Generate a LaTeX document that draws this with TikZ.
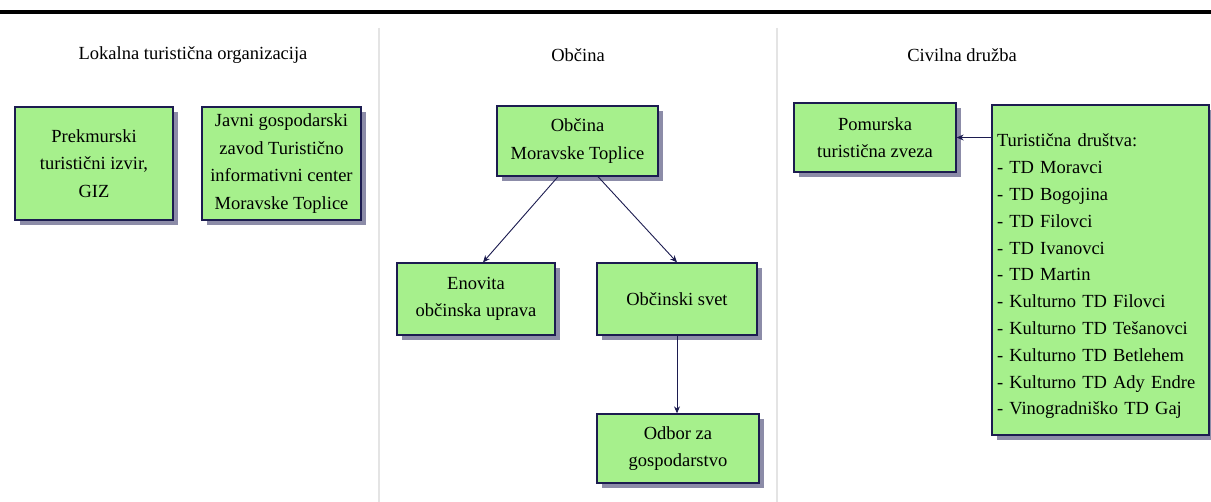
\documentclass[tikz,border=0pt]{standalone}
\usepackage{fontspec}
\setmainfont{Liberation Serif}
\usetikzlibrary{shadows,calc,arrows.meta}
\definecolor{boxfill}{RGB}{166,240,140}
\definecolor{boxline}{RGB}{28,28,80}
\definecolor{shadowc}{RGB}{140,140,168}
\definecolor{sepc}{RGB}{228,228,228}
\tikzset{
  orgbox/.style={draw=boxline, line width=1.3pt, fill=boxfill, align=center,
    inner sep=2pt, font=\fontsize{18.5}{27.5}\selectfont,
    drop shadow={shadow xshift=5pt, shadow yshift=-5pt, fill=shadowc, opacity=1}},
  hdr/.style={font=\fontsize{18.5}{22}\selectfont},
  conn/.style={draw=boxline, line width=0.9pt, -{Stealth[length=7pt,width=6pt]}}
}
\begin{document}
\begin{tikzpicture}[x=1pt,y=-1pt]
\useasboundingbox (0,0) rectangle (1211,502);
\fill[white] (0,0) rectangle (1211,502);
\coordinate (tl) at (0,12);
\coordinate (tr) at (1211,12);
\draw[line width=3.5pt] (tl) -- (tr);
\coordinate (s1t) at (379,28);
\coordinate (s1b) at (379,502);
\coordinate (s2t) at (777,28);
\coordinate (s2b) at (777,502);
\draw[sepc, line width=1.5pt] (s1t) -- (s1b);
\draw[sepc, line width=1.5pt] (s2t) -- (s2b);

\node[hdr] (h1) at (193,55) {Lokalna turistična organizacija};
\node[hdr] (h2) at (578,55) {Občina};
\node[hdr] (h3) at (962,55) {Civilna družba};

\node[orgbox, minimum width=158pt, minimum height=113pt] (prek) at (94,163.5)
  {Prekmurski\\turistični izvir,\\GIZ};
\node[orgbox, minimum width=159pt, minimum height=113pt] (javni) at (281.5,163.5)
  {Javni gospodarski\\zavod Turistično\\informativni center\\Moravske Toplice};

\node[orgbox, minimum width=161pt, minimum height=70pt] (obc) at (577.5,141)
  {Občina\\Moravske Toplice};
\node[orgbox, minimum width=158pt, minimum height=72pt] (enov) at (476,299)
  {Enovita\\občinska uprava};
\node[orgbox, minimum width=160pt, minimum height=72pt] (svet) at (677,299)
  {Občinski svet};
\node[orgbox, minimum width=162pt, minimum height=69pt] (odbor) at (678,448.5)
  {Odbor za\\gospodarstvo};

\node[orgbox, minimum width=217pt, minimum height=330pt, align=left, text width=207pt, font=\fontsize{18.5}{26.8}\selectfont] (td) at (1100.5,270)
  {\rule{0pt}{26pt}Turistična društva:\\- TD Moravci\\- TD Bogojina\\- TD Filovci\\- TD Ivanovci\\- TD Martin\\- Kulturno TD Filovci\\- Kulturno TD Tešanovci\\- Kulturno TD Betlehem\\- Kulturno TD Ady Endre\\- Vinogradniško TD Gaj};
\node[orgbox, minimum width=162pt, minimum height=69pt] (pom) at (875,137.5)
  {Pomurska\\turistična zveza};

\draw[conn] ($(obc.south)+(-19.5,0)$) -- ($(enov.north)+(7,0)$);
\draw[conn] ($(obc.south)+(20.5,0)$) -- (svet.north);
\draw[conn] (svet.south) -- (odbor.north -| svet.south);
\draw[conn] (td.west |- pom.east) -- (pom.east);
\end{tikzpicture}
\end{document}
